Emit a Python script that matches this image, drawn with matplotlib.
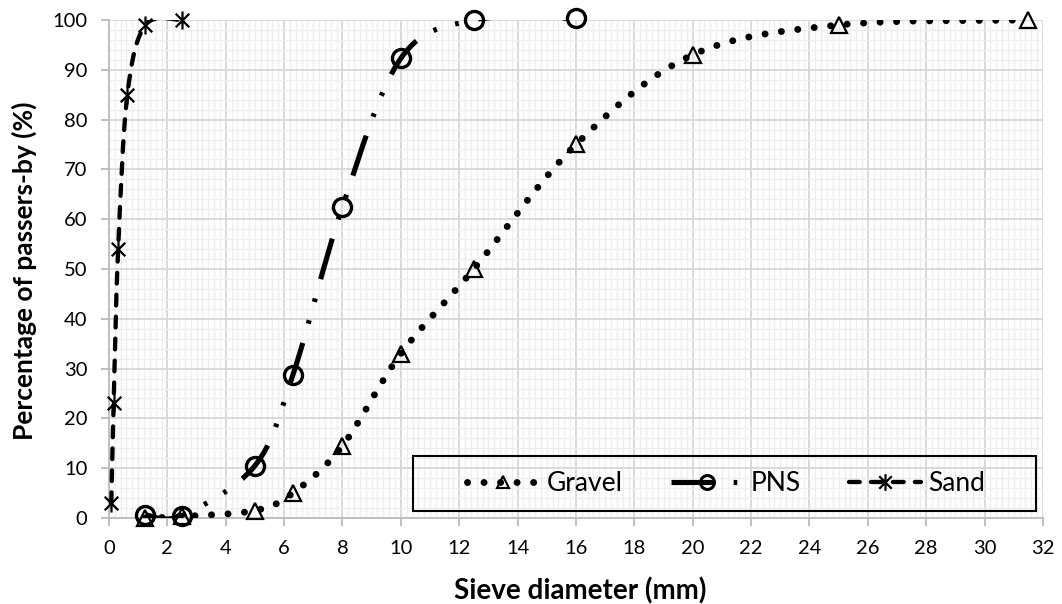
import numpy as np
import matplotlib.pyplot as plt
from matplotlib.path import Path
from matplotlib.patches import PathPatch, Rectangle
from matplotlib.lines import Line2D

plt.rcParams["font.family"] = ["Lato", "DejaVu Sans"]

# Sieve analysis: percentage passing vs sieve size (mm)
gravel_x = [1.25, 2.5, 5, 6.3, 8, 10, 12.5, 16, 20, 25, 31.5]
gravel_y = [0.0, 0.3, 1.5, 5.0, 14.5, 33.0, 50.0, 75.0, 93.0, 99.0, 100.0]

pns_x = [1.25, 2.5, 5, 6.3, 8, 10, 12.5, 16]
pns_y = [0.6, 0.5, 10.5, 28.7, 62.5, 92.3, 100.0, 100.3]

sand_x = [0.08, 0.16, 0.315, 0.63, 1.25, 2.5]
sand_y = [3.0, 23.0, 54.0, 85.0, 99.0, 100.0]

series_names = ["Gravel", "PNS", "Sand"]
x_ticks = list(range(0, 33, 2))
y_ticks = list(range(0, 101, 10))


def smooth_path(xs, ys):
    # Excel-like smoothed line: Catmull-Rom segments as cubic Bezier
    p = np.column_stack([xs, ys]).astype(float)
    n = len(p)
    verts = [p[0]]
    codes = [Path.MOVETO]
    for i in range(n - 1):
        p0 = p[i - 1] if i > 0 else p[i]
        p3 = p[i + 2] if i + 2 < n else p[i + 1]
        c1 = p[i] + (p[i + 1] - p0) / 6.0
        c2 = p[i + 1] - (p3 - p[i]) / 6.0
        verts += [c1, c2, p[i + 1]]
        codes += [Path.CURVE4] * 3
    return Path(verts, codes)


# Excel style asterisk: X plus a vertical bar
star = Path([(0, -1), (0, 1), (-0.75, -0.75), (0.75, 0.75), (-0.75, 0.75), (0.75, -0.75)],
            [Path.MOVETO, Path.LINETO] * 3)

gravel_ls = (0, (0.01, 2.37))
pns_ls = (0, (8.2, 3.9, 0.7, 3.7, 0.7, 3.9))
sand_ls = (0, (2.5, 2.6))

fig = plt.figure(figsize=(10.62, 6.04), dpi=100)
ax = fig.add_axes([0.1026, 0.1424, 0.8795, 0.8245])

ax.set_xlim(0, 32)
ax.set_ylim(0, 100)
ax.set_xticks(x_ticks)
ax.set_yticks(y_ticks)
ax.set_xticks(np.arange(0, 32.01, 0.2), minor=True)
ax.set_yticks(np.arange(0, 100.01, 2), minor=True)
ax.grid(which="major", color="#d9d9d9", linewidth=1.4)
ax.grid(which="minor", color="#eeeeee", linewidth=1.0)
ax.set_axisbelow(True)

for s in ["top", "right"]:
    ax.spines[s].set_visible(False)
for s in ["left", "bottom"]:
    ax.spines[s].set_color("#bfbfbf")
    ax.spines[s].set_linewidth(1.4)
ax.tick_params(axis="both", which="major", direction="out", length=5.5,
               color="#bfbfbf", width=1.4, labelsize=14.5)
ax.tick_params(axis="both", which="minor", length=0)
ax.tick_params(axis="x", pad=10.5)
ax.tick_params(axis="y", pad=10)

lines = [
    (gravel_x, gravel_y, gravel_ls, 5.0, "round"),
    (pns_x, pns_y, pns_ls, 3.7, "butt"),
    (sand_x, sand_y, sand_ls, 3.1, "round"),
]
for xs, ys, ls, lw, cap in lines:
    patch = PathPatch(smooth_path(xs, ys), facecolor="none", edgecolor="black",
                      linewidth=lw, linestyle=ls, zorder=3)
    patch.set_capstyle(cap)
    ax.add_patch(patch)

ax.plot(gravel_x, gravel_y, linestyle="none", marker="^", markersize=11.5,
        markerfacecolor="none", markeredgecolor="black", markeredgewidth=1.6, zorder=4, clip_on=False)
ax.plot(pns_x, pns_y, linestyle="none", marker="o", markersize=13,
        markerfacecolor="none", markeredgecolor="black", markeredgewidth=2.4, zorder=4, clip_on=False)
ax.plot(sand_x, sand_y, linestyle="none", marker=star, markersize=13,
        markerfacecolor="none", markeredgecolor="black", markeredgewidth=1.6, zorder=4, clip_on=False)

ax.set_xlabel("Sieve diameter (mm)", fontsize=20, fontweight="bold")
ax.set_ylabel("Percentage of passers-by (%)", fontsize=19, fontweight="bold")
ax.xaxis.set_label_coords(0.505, -0.146)
ax.xaxis.label.set_va("center")
ax.yaxis.set_label_coords(-0.091, 0.497)
ax.yaxis.label.set_va("center")

handles = [
    Line2D([], [], color="black", linestyle=gravel_ls, linewidth=5.0, dash_capstyle="round",
           marker="^", markersize=9, markerfacecolor="none", markeredgewidth=1.5),
    Line2D([], [], color="black", linestyle=pns_ls, linewidth=3.7,
           marker="o", markersize=10, markerfacecolor="none", markeredgewidth=2.2),
    Line2D([], [], color="black", linestyle=sand_ls, linewidth=3.1, dash_capstyle="round",
           marker=star, markersize=12, markerfacecolor="none", markeredgewidth=1.6),
]
leg = ax.legend(handles, series_names, ncol=3, loc="center",
                bbox_to_anchor=(0.661, 0.0693), frameon=False,
                fontsize=19, handlelength=2.7, handletextpad=0.3,
                columnspacing=1.85, borderaxespad=0, borderpad=0)
leg.set_zorder(6)

ax.add_patch(Rectangle((0.3258, 0.014), 0.6667, 0.1104, transform=ax.transAxes,
                       fill=False, edgecolor="black", linewidth=1.5, zorder=6))

fig.savefig("out.png", dpi=100)
